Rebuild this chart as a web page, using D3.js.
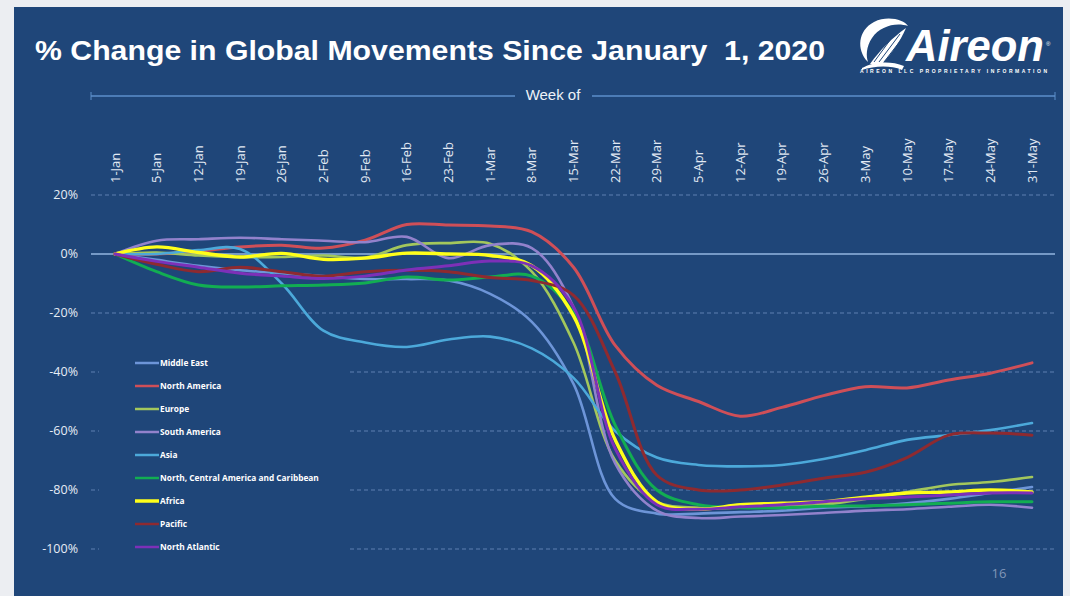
<!DOCTYPE html>
<html><head><meta charset="utf-8">
<script src="https://cdn.jsdelivr.net/npm/d3@7/dist/d3.min.js"></script>
<style>html,body{margin:0;padding:0;background:#eceef2;}svg{display:block;}</style>
</head><body>
<svg id="chart" width="1070" height="596"></svg>
<script>
const categories = ["1-Jan","5-Jan","12-Jan","19-Jan","26-Jan","2-Feb","9-Feb","16-Feb","23-Feb","1-Mar","8-Mar","15-Mar","22-Mar","29-Mar","5-Apr","12-Apr","19-Apr","26-Apr","3-May","10-May","17-May","24-May","31-May"];
const yTicks = [20, 0, -20, -40, -60, -80, -100];
const seriesNames = ["Middle East","North America","Europe","South America","Asia","North, Central America and Caribbean","Africa","Pacific","North Atlantic"];
const middleEast    = [0,-2,-4,-5.5,-6.5,-7.5,-8.5,-8.5,-9,-13.5,-23,-44,-83,-88,-88,-87.5,-87,-86,-85.5,-84.5,-83,-81,-79];
const northAmerica  = [0,0,1,2.4,3,2,4.7,10,9.8,9.5,7.5,-4.5,-31,-44.5,-50,-55,-52,-48,-45,-45.4,-42.7,-40.4,-36.9];
const europe        = [0,0.5,-0.5,-1,-1,-0.5,-1.2,3,3.7,3.5,-6,-30,-70,-84,-86,-86,-85.5,-85,-83,-80.7,-78.3,-77.3,-75.6];
const southAmerica  = [0,4.5,5,5.5,5,4.5,4,5.8,-1.4,3,2,-18,-71,-87,-89.5,-89,-88.5,-87.8,-87,-86.5,-85.7,-85,-86];
const asia          = [0,0,1.3,1.7,-10,-26,-30,-31.5,-29,-28,-32,-42,-60,-69,-71.5,-72,-71.5,-69.5,-66.5,-63,-61.4,-59.7,-57.3];
const ncaCaribbean  = [0,-6,-10.5,-11.2,-10.8,-10.5,-9.8,-7.8,-8.8,-7.8,-7.5,-20,-58,-80,-85,-86,-86,-85.5,-85.4,-85,-84.5,-84,-84];
const africa        = [0,2.4,0.5,-1,0.2,-1.8,-1.4,0.3,0,-0.5,-4,-21,-63,-84,-86.5,-85,-84.5,-84,-82.4,-81,-80.7,-80,-80.7];
const pacific       = [0,-3.5,-6,-4.5,-6,-7.5,-6,-5.5,-6,-8,-9,-14,-40,-75,-80,-80,-78.3,-76,-74,-69,-61.4,-60.7,-61.4];
const northAtlantic = [0,-2.5,-4.5,-6.5,-7.5,-8.3,-7.5,-5.4,-4,-2.4,-4,-18,-66,-85,-86.5,-85.7,-85,-84,-83,-82.4,-81.7,-81,-81];
const seriesValues = [middleEast,northAmerica,europe,southAmerica,asia,ncaCaribbean,africa,pacific,northAtlantic];
const seriesColors = ["#6d95d8","#cf4f58","#a3c75c","#9282cc","#4ca9da","#12ad52","#ffff1a","#8e2a30","#7d30b8"];
const seriesWidths = [2.6,3,2.6,2.6,2.6,3,3.4,3,3];

const svg = d3.select("#chart");
const W = 1070, H = 596;
const bg = "#1f4679";

svg.append("rect").attr("x",0).attr("y",0).attr("width",W).attr("height",H).attr("fill","#eceef2");
svg.append("rect").attr("x",14).attr("y",7).attr("width",1049).attr("height",H-7).attr("fill",bg);

// Title
svg.append("text").attr("x",35).attr("y",60)
  .attr("font-family","Liberation Sans, Arial, sans-serif").attr("font-weight","bold")
  .attr("font-size",28).attr("fill","#ffffff").style("white-space","pre")
  .attr("textLength",790).attr("lengthAdjust","spacingAndGlyphs")
  .text("% Change in Global Movements Since January  1, 2020");

// Logo
const logo = svg.append("g");
logo.append("path")
  .attr("d","M868,62 C856,50 858,30 874,22 C888,15 904,20 908,26 C896,22 880,26 872,38 C866,47 866,56 868,62 Z")
  .attr("fill","#ffffff");
logo.append("path")
  .attr("d","M870,64 C880,50 892,38 906,28 C900,42 890,56 880,66 Z")
  .attr("fill","#ffffff");
logo.append("path")
  .attr("d","M862,68 C872,62 890,60 904,66 L902,70 C890,65 874,66 862,70 Z")
  .attr("fill","#ffffff");
[0,1,2].forEach(i=>{
  logo.append("line").attr("x1",874+i*5).attr("y1",62).attr("x2",896+i*4).attr("y2",32+i*2)
    .attr("stroke",bg).attr("stroke-width",1);
});
logo.append("text").attr("x",906).attr("y",61)
  .attr("font-family","Liberation Sans, Arial, sans-serif").attr("font-weight","bold").attr("font-style","italic")
  .attr("font-size",44).attr("fill","#ffffff").attr("textLength",138).attr("lengthAdjust","spacingAndGlyphs")
  .text("Aireon");
logo.append("text").attr("x",1046).attr("y",46).attr("font-family","Liberation Sans, Arial, sans-serif")
  .attr("font-size",6).attr("fill","#ffffff").text("®");
logo.append("text").attr("x",860).attr("y",73)
  .attr("font-family","Liberation Sans, Arial, sans-serif").attr("font-weight","bold")
  .attr("font-size",5).attr("fill","#ffffff").attr("textLength",187).attr("lengthAdjust","spacing")
  .text("AIREON LLC PROPRIETARY INFORMATION");

// Scales
const x = d3.scalePoint().domain(categories).range([115, 1032]);
const y = d3.scaleLinear().domain([-100, 20]).range([549, 195]);
const gx0 = 91, gx1 = 1055;

// Top axis title with line
const lineCol = "#5d8fcb";
svg.append("line").attr("x1",gx0).attr("x2",515).attr("y1",96).attr("y2",96).attr("stroke",lineCol).attr("stroke-width",1.5);
svg.append("line").attr("x1",592).attr("x2",gx1).attr("y1",96).attr("y2",96).attr("stroke",lineCol).attr("stroke-width",1.5);
svg.append("line").attr("x1",gx0).attr("x2",gx0).attr("y1",92).attr("y2",100).attr("stroke",lineCol).attr("stroke-width",1);
svg.append("line").attr("x1",gx1).attr("x2",gx1).attr("y1",92).attr("y2",100).attr("stroke",lineCol).attr("stroke-width",1);
svg.append("text").attr("x",553).attr("y",100).attr("text-anchor","middle")
  .attr("font-family","Liberation Sans, Arial, sans-serif").attr("font-size",15).attr("fill","#eef2f8")
  .text("Week of");

// Gridlines
const grid = svg.append("g");
yTicks.forEach(t=>{
  if (t === 0) return;
  grid.append("line").attr("x1",gx0).attr("x2",gx1).attr("y1",y(t)).attr("y2",y(t))
    .attr("stroke","#7393c4").attr("stroke-opacity",0.75).attr("stroke-width",1).attr("stroke-dasharray","4,3");
});

// Y axis labels
svg.append("g").selectAll("text").data(yTicks).join("text")
  .attr("x",78).attr("y",d=>y(d)).attr("dy","0.35em").attr("text-anchor","end")
  .attr("font-family","Open Sans, sans-serif").attr("font-size",12.5).attr("fill","#e6ecf5")
  .text(d=>d+"%");

// X axis labels (rotated)
svg.append("g").selectAll("text").data(categories).join("text")
  .attr("transform",d=>`translate(${x(d)},183) rotate(-90)`)
  .attr("dy","0.35em").attr("text-anchor","start")
  .attr("font-family","Open Sans, sans-serif").attr("font-size",13).attr("fill","#e2e9f3")
  .text(d=>d);

// Legend box (covers gridlines)
svg.append("rect").attr("x",99).attr("y",342).attr("width",249).attr("height",216).attr("fill",bg);

// Zero line
svg.append("line").attr("x1",gx0).attr("x2",gx1).attr("y1",y(0)).attr("y2",y(0))
  .attr("stroke","#93b6e0").attr("stroke-width",1.3);

// Series lines
const line = d3.line().x((d,i)=>x(categories[i])).y(d=>y(d)).curve(d3.curveCatmullRom.alpha(0.5));
const lines = svg.append("g");
seriesValues.forEach((vals,k)=>{
  lines.append("path").attr("d",line(vals)).attr("fill","none")
    .attr("stroke",seriesColors[k]).attr("stroke-width",seriesWidths[k])
    .attr("stroke-linejoin","round").attr("stroke-linecap","round");
});

// Legend
const leg = svg.append("g");
seriesNames.forEach((n,k)=>{
  const ly = 363 + k*23;
  leg.append("line").attr("x1",135).attr("x2",159).attr("y1",ly).attr("y2",ly)
    .attr("stroke",seriesColors[k]).attr("stroke-width",k===6?3.5:2.5);
  leg.append("text").attr("x",160).attr("y",ly).attr("dy","0.35em")
    .attr("font-family","Open Sans, sans-serif").attr("font-weight","bold").attr("font-size",8.3)
    .attr("fill","#ffffff").text(n);
});

// Page number
svg.append("text").attr("x",999).attr("y",578).attr("text-anchor","middle")
  .attr("font-family","Open Sans, sans-serif").attr("font-size",13).attr("fill","#8196b8").text("16");
</script>
</body></html>
